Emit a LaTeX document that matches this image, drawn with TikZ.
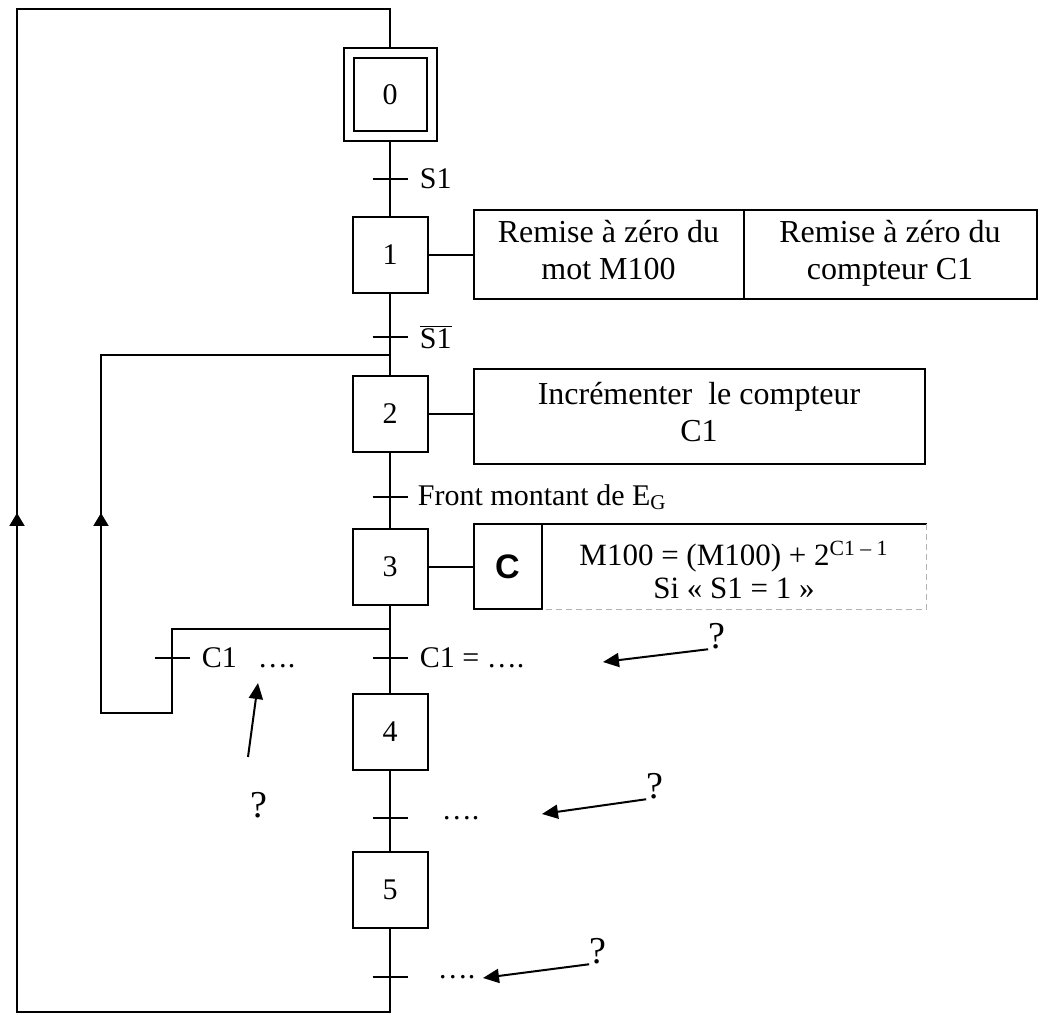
\documentclass[tikz,border=0pt]{standalone}
\usepackage{fontspec}
\setmainfont{Liberation Serif}
\newfontfamily\arialfont{Liberation Sans}
\usetikzlibrary{arrows.meta,positioning}

\tikzset{
  link/.style={line width=1pt},
  stepbox/.style={draw, line width=1pt, minimum width=37.5pt, minimum height=38pt, inner sep=0pt, font=\fontsize{15}{17}\selectfont},
  initstep/.style={stepbox, double, double distance=4pt, minimum width=41.5pt, minimum height=41.5pt, outer sep=3pt},
  trans/.style={inner sep=0pt, outer sep=0pt, minimum width=17.5pt, minimum height=1pt},
  lbl/.style={inner sep=0pt, font=\fontsize{15}{17}\selectfont},
  actbox/.style={draw, line width=1pt, inner sep=0pt, outer sep=0pt, align=center, font=\fontsize{16}{18.5}\selectfont},
  greyline/.style={draw=gray!60, line width=0.8pt, densely dashed},
  qmark/.style={inner sep=0pt, font=\fontsize{19}{21}\selectfont},
  qarrow/.style={line width=1pt, -{Triangle[length=8pt,width=7pt]}},
  looparrow/.style={line width=1pt, -{Triangle[length=6.5pt,width=7.5pt]}},
}

\begin{document}
\begin{tikzpicture}[x=0.5pt,y=-0.5pt]
\useasboundingbox (0,0) rectangle (1045,1015);

% etapes
\node[initstep] (e0) at (390,95) {0};
\node[stepbox] (e1) at (390,255) {1};
\node[stepbox] (e2) at (390,414) {2};
\node[stepbox] (e3) at (390,567) {3};
\node[stepbox] (e4) at (390,732) {4};
\node[stepbox] (e5) at (390,890) {5};

% transitions
\node[trans] (t01) at (390,179) {};
\node[trans] (t12) at (390,337) {};
\node[trans] (t23) at (390,497) {};
\node[trans] (t34) at (390,658) {};
\node[trans] (t3b) at (172,658) {};
\node[trans] (t45) at (390,818) {};
\node[trans] (t50) at (390,977) {};
\foreach \t in {t01,t12,t23,t34,t3b,t45,t50}
  \draw[link] (\t.west) -- (\t.east);

\node[lbl, right=6pt of t01] (r01) {S1};
\node[lbl, right=6pt of t12] (r12) {\(\overline{\mbox{S1}}\)};
\node[lbl, right=5pt of t23] (r23) {Front montant de E\textsubscript{G}};
\node[lbl, right=6pt of t34] (r34) {C1 = ….};
\node[lbl, right=6pt of t3b] (r3b) {C1\hspace{0.7em}….};
\node[lbl, right=17pt of t45] (r45) {….};
\node[lbl, right=15pt of t50] (r50) {….};

% actions
\node[actbox, minimum width=135pt, minimum height=44.5pt, right=22.5pt of e1] (a1) {Remise à zéro du\\mot M100\strut};
\node[actbox, minimum width=146.5pt, minimum height=44.5pt, right=0pt of a1] (a1b) {Remise à zéro du\\compteur C1\strut};
\node[actbox, minimum width=225.5pt, minimum height=47.5pt, right=22.5pt of e2, yshift=-1.5pt] (a2) {Incrémenter\ \ le compteur\\C1\strut};
\node[actbox, minimum width=34pt, minimum height=42.5pt, right=22.5pt of e3, font={\arialfont\bfseries\fontsize{17}{19}\selectfont}] (c3) {C};
\node[actbox, draw=none, minimum width=192.5pt, right=0pt of c3, yshift=-4pt, font=\fontsize{15.5}{16.5}\selectfont] (a3) {M100 = (M100) + 2\textsuperscript{C1 – 1}\\Si «~S1 = 1~»\strut};

\draw[link] (e1.east) -- (a1.west);
\draw[link] (e2.east) -- (a2.west |- e2.east);
\draw[link] (e3.east) -- (c3.west);
\draw[link] (c3.north east) -- (c3.north east -| a3.east);
\draw[greyline] (c3.north east -| a3.east) -- (c3.south east -| a3.east) -- (c3.south east);

% questions
\node[qmark] (q1) at (717,636) {?};
\node[qmark] (q2) at (655,786) {?};
\node[qmark] (q3) at (598,951) {?};
\node[qmark] (q4) at (259,805) {?};
\coordinate (p1) at (603,662);
\coordinate (p2) at (542,814);
\coordinate (p3) at (483,978);
\coordinate (p4) at (258,683);
\coordinate (s4) at (248,757);
\draw[qarrow] (q1.south west) -- (p1);
\draw[qarrow] (q2.south west) -- (p2);
\draw[qarrow] (q3.south west) -- (p3);
\draw[qarrow] (s4) -- (p4);

% sequence principale
\coordinate (j1) at (390,355);
\coordinate (j2) at (390,629);
\coordinate (tl) at (17,9);
\coordinate (bl) at (17,1012);
\coordinate (lb) at (101,713);
\coordinate (upA) at (17,513);
\coordinate (upB) at (101,513);

\draw[link] (e0.south) -- (e1.north);
\draw[link] (e1.south) -- (e2.north);
\draw[link] (e2.south) -- (e3.north);
\draw[link] (e3.south) -- (e4.north);
\draw[link] (e4.south) -- (e5.north);

% retour a l'etape 0
\draw[link] (e5.south) -- (e5.south |- bl) -- (bl) -- (tl) -- (tl -| e0) -- (e0.north);
\draw[looparrow] (bl) -- (upA);

% reprise a l'etape 2
\draw[link] (j2) -| (t3b.center) |- (lb) -- (lb |- j1) -- (j1);
\draw[looparrow] (lb) -- (upB);
\end{tikzpicture}
\end{document}
